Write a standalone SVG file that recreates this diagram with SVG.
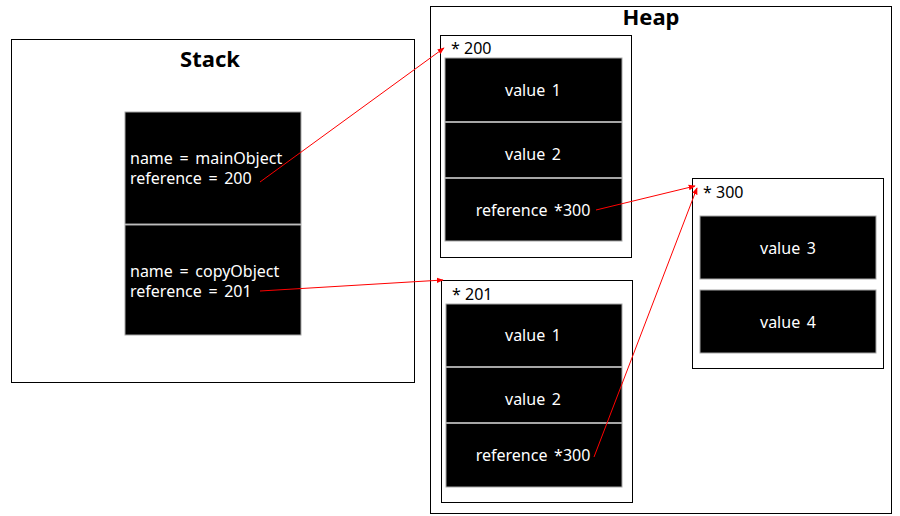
<svg xmlns="http://www.w3.org/2000/svg" width="900" height="516" viewBox="0 0 900 516">
<defs>
<style>
.frame{fill:#fff;stroke:#000;stroke-width:1}
.blk{fill:#000;stroke:#a6a6a6;stroke-width:1}
.sep{stroke:#a6a6a6;stroke-width:2}
.t{font-family:"Noto Sans","Open Sans",sans-serif;font-size:16px;word-spacing:2.5px;fill:#fff}
.c{text-anchor:middle}
.lbl{font-family:"Noto Sans","Open Sans",sans-serif;font-size:16px;fill:#000}
.title{font-family:"Noto Sans","Open Sans",sans-serif;font-size:22px;font-weight:bold;fill:#000;text-anchor:middle}
.ar{stroke:#ff0000;stroke-width:1;fill:none;marker-end:url(#ah)}
</style>
<marker id="ah" viewBox="0 0 10 10" refX="9" refY="5" markerWidth="7" markerHeight="7" orient="auto" markerUnits="userSpaceOnUse">
<path d="M0,1 L10,5 L0,9 z" fill="#ff0000"/>
</marker>
</defs>
<rect width="900" height="516" fill="#fff"/>

<g id="stack">
<rect class="frame" x="11.5" y="39.5" width="403" height="343"/>
<text class="title" x="210" y="67">Stack</text>
</g>
<g id="stack-mainObject">
<rect class="blk" x="125" y="112" width="176" height="112"/>
<text class="t" x="130" y="164">name = mainObject</text>
<text class="t" x="130" y="184">reference = 200</text>
</g>
<g id="stack-copyObject">
<rect class="blk" x="125" y="225" width="176" height="110"/>
<text class="t" x="130" y="277">name = copyObject</text>
<text class="t" x="130" y="297">reference = 201</text>
</g>

<g id="heap">
<rect class="frame" x="430.5" y="6.5" width="461" height="507"/>
<text class="title" x="651" y="25">Heap</text>
</g>

<g id="obj200">
<rect class="frame" x="440.5" y="35.5" width="191" height="222"/>
<text class="lbl" x="451" y="54">* 200</text>
<rect class="blk" x="445" y="58" width="177" height="183"/>
<line class="sep" x1="445" y1="122" x2="622" y2="122"/>
<line class="sep" x1="445" y1="178" x2="622" y2="178"/>
<text class="t c" x="533" y="96">value 1</text>
<text class="t c" x="533" y="160">value 2</text>
<text class="t c" x="533" y="216">reference *300</text>
</g>

<g id="obj201">
<rect class="frame" x="441.5" y="280.5" width="191" height="222"/>
<text class="lbl" x="452" y="300">* 201</text>
<rect class="blk" x="446" y="304" width="176" height="183"/>
<line class="sep" x1="446" y1="367" x2="622" y2="367"/>
<line class="sep" x1="446" y1="423" x2="622" y2="423"/>
<text class="t c" x="533" y="341">value 1</text>
<text class="t c" x="533" y="405">value 2</text>
<text class="t c" x="533" y="461">reference *300</text>
</g>

<g id="obj300">
<rect class="frame" x="692.5" y="178.5" width="191" height="190"/>
<text class="lbl" x="703" y="198">* 300</text>
<rect class="blk" x="700" y="216" width="176" height="63"/>
<text class="t c" x="788" y="254">value 3</text>
<rect class="blk" x="700" y="290" width="176" height="63"/>
<text class="t c" x="788" y="328">value 4</text>
</g>

<g id="connectors">
<line class="ar" x1="260" y1="182" x2="444" y2="48"/>
<line class="ar" x1="260" y1="291" x2="443" y2="280"/>
<line class="ar" x1="596" y1="210" x2="695" y2="186"/>
<line class="ar" x1="594" y1="457" x2="697" y2="188"/>
</g>
</svg>
